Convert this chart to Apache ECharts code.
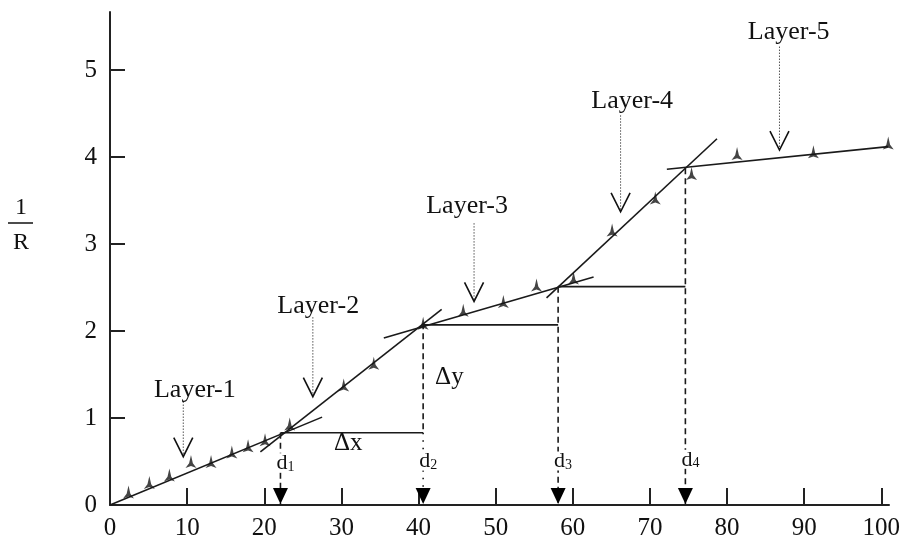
<!DOCTYPE html>
<html><head><meta charset="utf-8">
<script src="https://cdn.jsdelivr.net/npm/echarts@6/dist/echarts.min.js"></script>
<style>html,body{margin:0;padding:0;background:#fff}#c{width:911px;height:539px}</style>
</head><body><div id="c"></div>
<script>
// ---- data ----
const xTickValues = [0,10,20,30,40,50,60,70,80,90,100];
const yTickValues = [0,1,2,3,4,5];
const pointsX = [2.4,5.1,7.7,10.5,13.1,15.8,17.9,20.1,23.3,30.3,34.2,40.6,45.8,51.0,55.3,60.1,65.1,70.7,75.4,81.3,91.2,100.9];
const pointsY = [0.15,0.26,0.345,0.50,0.50,0.61,0.68,0.75,0.93,1.38,1.63,2.09,2.24,2.34,2.53,2.61,3.16,3.53,3.81,4.04,4.06,4.16];
const fitLine1 = [[0,0],[27.5,1.01]];
const fitLine2 = [[19.5,0.61],[43.0,2.25]];
const fitLine3 = [[35.5,1.92],[62.7,2.62]];
const fitLine4 = [[56.6,2.38],[78.7,4.21]];
const fitLine5 = [[72.2,3.86],[100.9,4.12]];
const stepY = [0.83,2.07,2.51];
const stepFrom = [22.1,40.6,58.1];
const stepTo = [40.6,58.1,74.6];
const dNames = ['1','2','3','4'];
const dX = [22.1,40.6,58.1,74.6];
const dTop = [0.83,2.09,2.51,3.87];
const dLabelY = [0.48,0.5,0.5,0.52];
const dDotFrom = [null,0.83,null,null];
const layerNames = ['Layer-1','Layer-2','Layer-3','Layer-4','Layer-5'];
const layerArrowX = [9.5,26.3,47.2,66.2,86.8];
const layerArrowTop = [1.19,2.16,3.24,4.48,5.27];
const layerArrowTip = [0.555,1.245,2.34,3.37,4.08];
const layerTextX = [11.0,27.0,46.3,67.7,88.0];
const layerTextY = [1.32,2.28,3.43,4.64,5.44];
const deltaNames = ['Δx','Δy'];
const deltaX = [30.9,44.0];
const deltaY = [0.71,1.47];

const SERIF = '"Liberation Serif", "DejaVu Serif", serif';
const INK = '#111';

function lineSeries(data, extra){
  return Object.assign({type:'line', data:data, showSymbol:false, symbol:'none', silent:true,
    lineStyle:{color:'#1a1a1a', width:1.6}, z:3}, extra||{});
}

function textEl(str, x, y, size, align){
  return {type:'text', style:{text:str, x:x, y:y, font:size+'px '+SERIF, fill:INK,
    textAlign:align||'center', textVerticalAlign:'middle', align:align||'center', verticalAlign:'middle'}};
}

function renderLayer(params, api){
  const i = params.dataIndex;
  const top = api.coord([api.value(0), api.value(1)]);
  const tip = api.coord([api.value(0), api.value(2)]);
  const txt = api.coord([api.value(3), api.value(4)]);
  return {type:'group', children:[
    {type:'line', shape:{x1:top[0],y1:top[1],x2:tip[0],y2:tip[1]-2}, style:{stroke:'#555',lineWidth:1,lineDash:[1.5,1.5]}},
    {type:'polyline', shape:{points:[[tip[0]-9.5,tip[1]-19],[tip[0],tip[1]],[tip[0]+9.5,tip[1]-19]]}, style:{stroke:'#111',lineWidth:1.6,fill:null}},
    textEl(layerNames[i], txt[0], txt[1], 26)
  ]};
}

function renderDelta(params, api){
  const p = api.coord([api.value(0), api.value(1)]);
  return textEl(deltaNames[params.dataIndex], p[0], p[1], 25);
}

function renderD(params, api){
  const i = params.dataIndex;
  const x = api.value(0);
  const top = api.coord([x, api.value(1)]);
  const bot = api.coord([x, 0]);
  const lab = api.coord([x, api.value(2)]);
  const children = [];
  const dashStyle = {stroke:'#1a1a1a', lineWidth:1.6, lineDash:[6,4]};
  if (dDotFrom[i] != null) {
    const mid = api.coord([x, dDotFrom[i]]);
    children.push({type:'line', shape:{x1:top[0],y1:top[1],x2:mid[0],y2:mid[1]}, style:dashStyle});
    children.push({type:'line', shape:{x1:mid[0],y1:mid[1],x2:bot[0],y2:bot[1]}, style:{stroke:'#1a1a1a', lineWidth:1.6, lineDash:[1.5,6]}});
  } else {
    children.push({type:'line', shape:{x1:top[0],y1:top[1],x2:bot[0],y2:bot[1]}, style:dashStyle});
  }
  children.push({type:'rect', shape:{x:lab[0]-6, y:lab[1]-10, width:20, height:19}, style:{fill:'#fff'}});
  children.push(textEl('d', lab[0]+1.5, lab[1], 22));
  children.push(textEl(dNames[i], lab[0]+7, lab[1]+4, 14, 'left'));
  children.push({type:'polygon', shape:{points:[[bot[0]-7.5,bot[1]-17],[bot[0]+7.5,bot[1]-17],[bot[0],bot[1]-1]]}, style:{fill:'#000'}});
  return {type:'group', children:children};
}

const chart = echarts.init(document.getElementById('c'), null, {renderer:'canvas'});
const option = {
  animation:false,
  backgroundColor:'#fff',
  grid:{left:110, right:22, top:12, bottom:34, containLabel:false, outerBoundsMode:'none'},
  xAxis:{type:'value', min:0, max:101, interval:10,
    axisLine:{show:true, onZero:false, lineStyle:{color:'#222', width:2}},
    axisTick:{show:true, inside:true, length:17, customValues:xTickValues.slice(1), lineStyle:{color:'#222', width:2}},
    axisLabel:{customValues:xTickValues, margin:11, fontFamily:SERIF, fontSize:25, color:INK},
    splitLine:{show:false}},
  yAxis:{type:'value', min:0, max:5.667, interval:1,
    axisLine:{show:true, onZero:false, lineStyle:{color:'#222', width:2}},
    axisTick:{show:true, inside:true, length:15, customValues:yTickValues.slice(1), lineStyle:{color:'#222', width:2}},
    axisLabel:{customValues:yTickValues, margin:13, fontFamily:SERIF, fontSize:25, color:INK},
    splitLine:{show:false}},
  graphic:[
    {type:'text', style:{text:'1', x:21, y:208, font:'24px '+SERIF, fill:INK, textAlign:'center', textVerticalAlign:'middle', align:'center', verticalAlign:'middle'}},
    {type:'line', shape:{x1:8, y1:223, x2:33, y2:223}, style:{stroke:INK, lineWidth:1.5}},
    {type:'text', style:{text:'R', x:21, y:243, font:'24px '+SERIF, fill:INK, textAlign:'center', textVerticalAlign:'middle', align:'center', verticalAlign:'middle'}}
  ],
  series:[
    lineSeries(fitLine1),
    lineSeries(fitLine2),
    lineSeries(fitLine3),
    lineSeries(fitLine4),
    lineSeries(fitLine5),
    ...stepY.map((y,i)=>lineSeries([[stepFrom[i],y],[stepTo[i],y]])),
    {type:'custom', coordinateSystem:'cartesian2d', renderItem:renderD, silent:true, z:4,
      data:dX.map((x,i)=>[x, dTop[i], dLabelY[i]])},
    {type:'custom', coordinateSystem:'cartesian2d', renderItem:renderLayer, silent:true, z:4,
      data:layerNames.map((n,i)=>[layerArrowX[i], layerArrowTop[i], layerArrowTip[i], layerTextX[i], layerTextY[i]])},
    {type:'custom', coordinateSystem:'cartesian2d', renderItem:renderDelta, silent:true, z:4,
      data:deltaNames.map((n,i)=>[deltaX[i], deltaY[i]])},
    {type:'scatter', silent:true, z:6,
      symbol:'path://M5,0 L6.7,7 L10,11 L5,9.4 L0,11 L3.3,7 Z', symbolSize:[11,13],
      itemStyle:{color:'#151515'},
      data:pointsX.map((x,i)=>[x, pointsY[i]])}
  ]
};
chart.setOption(option);
</script>
</body></html>
